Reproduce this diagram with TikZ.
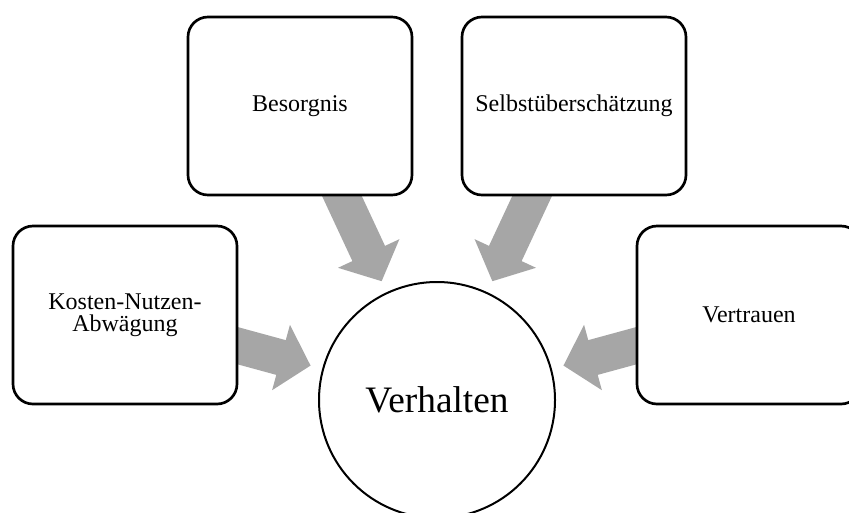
\documentclass[tikz,border=0pt]{standalone}
\usepackage{fontspec}
\setmainfont{Liberation Serif}
\usetikzlibrary{arrows.meta,backgrounds}

\definecolor{arrowgray}{RGB}{166,166,166}

\tikzset{every picture/.style={line width=0.75pt}}
\tikzset{
  factorbox/.style={draw, fill=white, line width=2pt, rounded corners=15pt,
    minimum width=168pt, minimum height=133.5pt, align=center,
    font=\fontsize{18}{16.5}\selectfont},
  centercircle/.style={draw, fill=white, circle, line width=1.5pt, inner sep=0pt,
    minimum size=177pt, font=\fontsize{28}{30}\selectfont},
  blockarrow/.style={draw=arrowgray, line width=27pt,
    -{Triangle[width=49.5pt,length=23pt]}, shorten >=9pt, shorten <=-15pt}
}

\begin{document}
\begin{tikzpicture}[x=0.75pt,y=0.75pt,yscale=-1,xscale=1]
	\useasboundingbox (0,0) rectangle (849,512); %set diagram size 849 x 512

	%Shape: Circle [id:verhalten]
	\node [centercircle] (verh) at (437,400) {Verhalten};
	%Shape: Rounded Rect [id:besorgnis]
	\node [factorbox] (bes) at (300,106) {Besorgnis};
	%Shape: Rounded Rect [id:selbst]
	\node [factorbox] (sel) at (574,106) {Selbstüberschätzung};
	%Shape: Rounded Rect [id:kosten]
	\node [factorbox] (kos) at (125,315) {Kosten-Nutzen-\\Abwägung};
	%Shape: Rounded Rect [id:vertrauen]
	\node [factorbox] (ver) at (749,315) {Vertrauen};

	%Block Arrows
	\begin{scope}[on background layer]
	\draw [blockarrow] (bes) -- (verh);
	\draw [blockarrow] (sel) -- (verh);
	\draw [blockarrow] (kos) -- (verh);
	\draw [blockarrow] (ver) -- (verh);
	\end{scope}

\end{tikzpicture}
\end{document}
